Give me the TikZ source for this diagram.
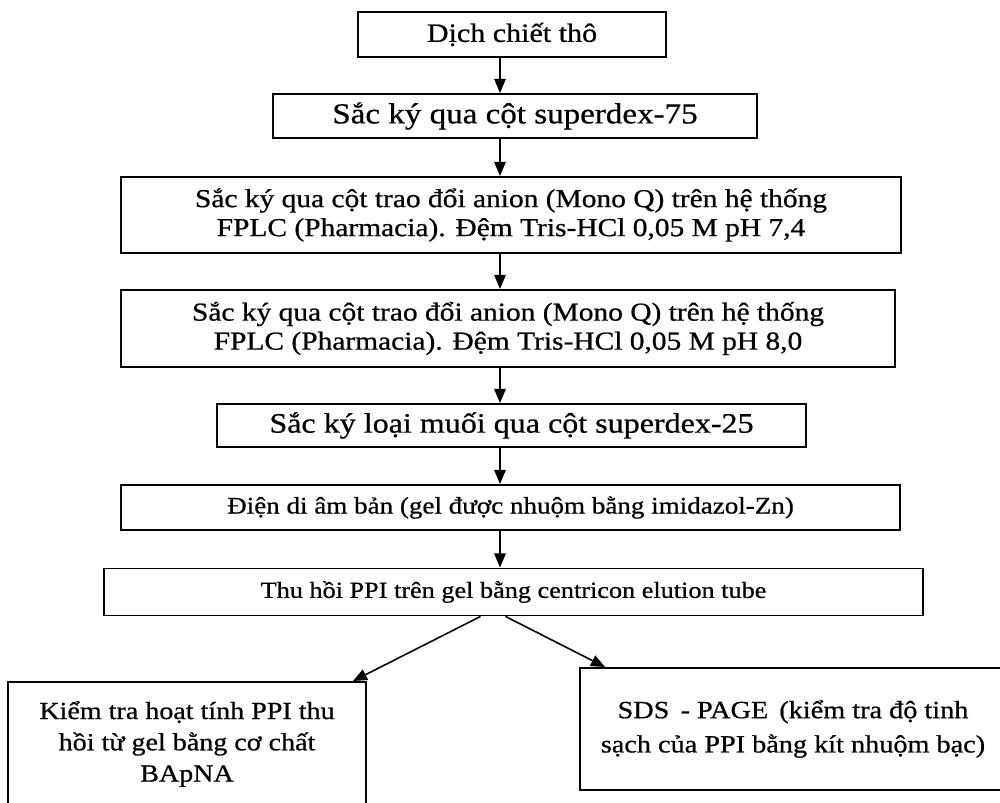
\documentclass[tikz,border=0pt]{standalone}
\usepackage{fontspec}
\setmainfont[FakeStretch=1.14, FakeBold=0.7]{Liberation Serif}
\usetikzlibrary{arrows.meta}

\tikzset{
	box/.style={draw, line width=1.1pt, inner sep=0pt, align=center,
		font=\fontsize{14.7pt}{16.5pt}\selectfont},
	bigbox/.style={box, font=\fontsize{14pt}{17.8pt}\selectfont},
	flow/.style={line width=0.9pt, -{Triangle[width=6.5pt,length=8pt]}}
}

\begin{document}
\begin{tikzpicture}[x=0.02cm, y=-0.02cm]
		\useasboundingbox (0,0) rectangle (1000,803);
		
		%main chain
		\node[box, minimum width=6.16cm, minimum height=0.9cm, font=\fontsize{15pt}{18pt}\selectfont] (b1) at (512,34.5) {Dịch chiết thô};
		\node[box, minimum width=9.68cm, minimum height=0.88cm, font=\fontsize{16.5pt}{19pt}\selectfont] (b2) at (515,116) {Sắc ký qua cột superdex-75};
		\node[box, minimum width=15.6cm, minimum height=1.52cm] (b3) at (511,215)
			{Sắc ký qua cột trao đổi anion (Mono Q) trên hệ thống\\FPLC (Pharmacia). Đệm Tris-HCl 0,05 M pH 7,4};
		\node[box, minimum width=15.48cm, minimum height=1.54cm] (b4) at (508,328.5)
			{Sắc ký qua cột trao đổi anion (Mono Q) trên hệ thống\\FPLC (Pharmacia). Đệm Tris-HCl 0,05 M pH 8,0};
		\node[box, minimum width=11.78cm, minimum height=0.86cm, font=\fontsize{16pt}{19pt}\selectfont] (b5) at (511.5,425.5) {Sắc ký loại muối qua cột superdex-25};
		\node[box, minimum width=15.58cm, minimum height=0.9cm, font=\fontsize{13.5pt}{16pt}\selectfont] (b6) at (510.5,507.5) {Điện di âm bản (gel được nhuộm bằng imidazol-Zn)};
		\node[box, minimum width=16.38cm, minimum height=0.94cm, font=\fontsize{13.1pt}{16pt}\selectfont] (b7) at (513.5,592) {Thu hồi PPI trên gel bằng centricon elution tube};
		
		%two checks
		\node[bigbox, minimum width=7.16cm, minimum height=2.48cm] (b8) at (187,744)
			{Kiểm tra hoạt tính PPI thu\\hồi từ gel bằng cơ chất\\BApNA};
		\node[bigbox, minimum width=8.52cm, minimum height=2.44cm, font=\fontsize{14.1pt}{19.5pt}\selectfont] (b9) at (793,729)
			{SDS \,- PAGE \,(kiểm tra độ tinh\\sạch của PPI bằng kít nhuộm bạc)};
		
		\coordinate (spine) at (500,0);
		\foreach \a/\b in {b1/b2, b2/b3, b3/b4, b4/b5, b5/b6, b6/b7}{
			\draw[flow] (\a.south -| spine) -- (\b.north -| spine);
		}
		\draw[flow] ([xshift=-0.66cm]b7.south) -- ([xshift=-0.28cm]b8.north east);
		\draw[flow] ([xshift=-0.16cm]b7.south) -- ([xshift=0.52cm]b9.north west);
\end{tikzpicture}
\end{document}
